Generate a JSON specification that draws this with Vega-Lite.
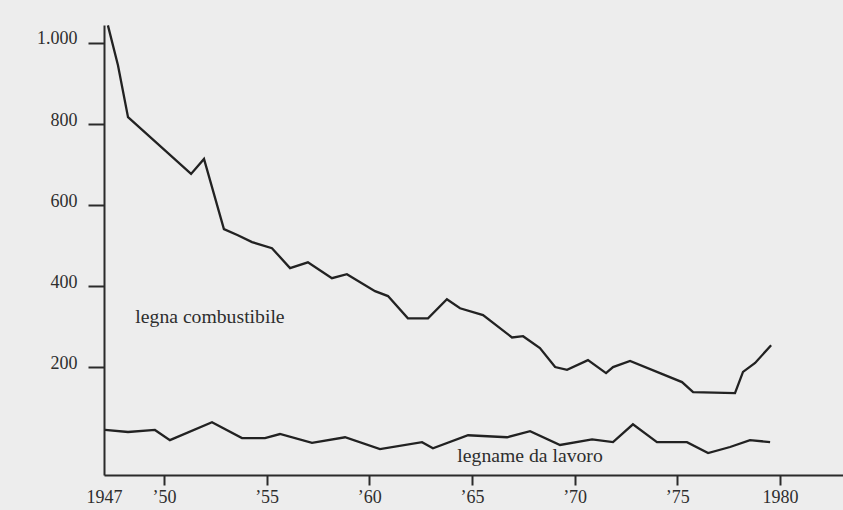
{
  "$schema": "https://vega.github.io/schema/vega-lite/v6.json",
  "width": 739,
  "height": 450,
  "autosize": {"type": "none"},
  "padding": {"left": 104, "top": 25, "right": 0, "bottom": 35},
  "background": "#ededed",
  "config": {"view": {"stroke": null}, "font": "Liberation Serif"},
  "data": {
    "values": [
      {"series": "legna combustibile", "year": 1947.27, "value": 1043},
      {"series": "legna combustibile", "year": 1947.76, "value": 945},
      {"series": "legna combustibile", "year": 1948.25, "value": 817},
      {"series": "legna combustibile", "year": 1951.32, "value": 677},
      {"series": "legna combustibile", "year": 1951.95, "value": 714},
      {"series": "legna combustibile", "year": 1952.92, "value": 541},
      {"series": "legna combustibile", "year": 1953.6, "value": 526},
      {"series": "legna combustibile", "year": 1954.29, "value": 509},
      {"series": "legna combustibile", "year": 1955.26, "value": 494},
      {"series": "legna combustibile", "year": 1956.14, "value": 445},
      {"series": "legna combustibile", "year": 1957.01, "value": 459},
      {"series": "legna combustibile", "year": 1958.18, "value": 420},
      {"series": "legna combustibile", "year": 1958.91, "value": 430},
      {"series": "legna combustibile", "year": 1960.28, "value": 388},
      {"series": "legna combustibile", "year": 1960.91, "value": 376},
      {"series": "legna combustibile", "year": 1961.88, "value": 321},
      {"series": "legna combustibile", "year": 1962.86, "value": 321},
      {"series": "legna combustibile", "year": 1963.78, "value": 368},
      {"series": "legna combustibile", "year": 1964.42, "value": 346},
      {"series": "legna combustibile", "year": 1965.54, "value": 329},
      {"series": "legna combustibile", "year": 1966.95, "value": 274},
      {"series": "legna combustibile", "year": 1967.49, "value": 277},
      {"series": "legna combustibile", "year": 1968.31, "value": 248},
      {"series": "legna combustibile", "year": 1969.05, "value": 201},
      {"series": "legna combustibile", "year": 1969.63, "value": 194},
      {"series": "legna combustibile", "year": 1970.65, "value": 218},
      {"series": "legna combustibile", "year": 1971.53, "value": 186},
      {"series": "legna combustibile", "year": 1971.87, "value": 201},
      {"series": "legna combustibile", "year": 1972.7, "value": 216},
      {"series": "legna combustibile", "year": 1975.23, "value": 164},
      {"series": "legna combustibile", "year": 1975.77, "value": 139},
      {"series": "legna combustibile", "year": 1977.81, "value": 137},
      {"series": "legna combustibile", "year": 1978.2, "value": 189},
      {"series": "legna combustibile", "year": 1978.79, "value": 211},
      {"series": "legna combustibile", "year": 1979.57, "value": 255},
      {"series": "legname da lavoro", "year": 1947.13, "value": 46},
      {"series": "legname da lavoro", "year": 1948.25, "value": 41},
      {"series": "legname da lavoro", "year": 1949.56, "value": 46},
      {"series": "legname da lavoro", "year": 1950.29, "value": 21},
      {"series": "legname da lavoro", "year": 1952.34, "value": 65},
      {"series": "legname da lavoro", "year": 1953.8, "value": 26},
      {"series": "legname da lavoro", "year": 1954.92, "value": 26},
      {"series": "legname da lavoro", "year": 1955.65, "value": 36},
      {"series": "legname da lavoro", "year": 1957.21, "value": 14},
      {"series": "legname da lavoro", "year": 1958.82, "value": 28},
      {"series": "legname da lavoro", "year": 1960.52, "value": -1},
      {"series": "legname da lavoro", "year": 1962.57, "value": 16},
      {"series": "legname da lavoro", "year": 1963.1, "value": 1},
      {"series": "legname da lavoro", "year": 1964.81, "value": 33},
      {"series": "legname da lavoro", "year": 1966.71, "value": 28},
      {"series": "legname da lavoro", "year": 1967.83, "value": 43},
      {"series": "legname da lavoro", "year": 1969.29, "value": 9},
      {"series": "legname da lavoro", "year": 1970.85, "value": 23},
      {"series": "legname da lavoro", "year": 1971.87, "value": 16},
      {"series": "legname da lavoro", "year": 1972.84, "value": 60},
      {"series": "legname da lavoro", "year": 1974.01, "value": 16},
      {"series": "legname da lavoro", "year": 1975.47, "value": 16},
      {"series": "legname da lavoro", "year": 1976.5, "value": -11},
      {"series": "legname da lavoro", "year": 1977.57, "value": 4},
      {"series": "legname da lavoro", "year": 1978.54, "value": 21},
      {"series": "legname da lavoro", "year": 1979.52, "value": 16}
    ]
  },
  "layer": [
    {
      "mark": {"type": "line", "color": "#222222", "strokeWidth": 2.3, "strokeJoin": "miter", "clip": true},
      "encoding": {
        "x": {
          "field": "year",
          "type": "quantitative",
          "scale": {"domain": [1947.08, 1983.07], "nice": false, "zero": false},
          "axis": {
            "values": [1947.08, 1950, 1955, 1960, 1965, 1970, 1975, 1980],
            "labelExpr": "datum.value < 1948 ? '1947' : (datum.value == 1980 ? '1980' : '’' + substring(toString(datum.value), 2))",
            "title": null,
            "grid": false,
            "domainColor": "#2b2b2b",
            "domainWidth": 2,
            "tickColor": {"condition": {"test": "datum.value < 1948", "value": "transparent"}, "value": "#2b2b2b"},
            "tickWidth": 2,
            "tickSize": 10,
            "labelFont": "Liberation Serif",
            "labelFontSize": 18,
            "labelColor": "#2e2e2e",
            "labelPadding": 3,
            "labelFlush": false,
            "labelOverlap": false
          }
        },
        "y": {
          "field": "value",
          "type": "quantitative",
          "scale": {"domain": [-65, 1044], "nice": false, "zero": false},
          "axis": {
            "values": [200, 400, 600, 800, 1000],
            "labelExpr": "datum.value == 1000 ? '1.000' : datum.label",
            "title": null,
            "grid": false,
            "domainColor": "#2b2b2b",
            "domainWidth": 2,
            "tickColor": "#2b2b2b",
            "tickWidth": 2,
            "tickSize": 16,
            "labelFont": "Liberation Serif",
            "labelFontSize": 18,
            "labelColor": "#2e2e2e",
            "labelPadding": 11,
            "labelOffset": -4,
            "labelFlush": false,
            "labelOverlap": false
          }
        },
        "detail": {"field": "series", "type": "nominal"}
      }
    },
    {
      "data": {"values": [{"label": "legna combustibile"}]},
      "mark": {"type": "text", "font": "Liberation Serif", "fontSize": 19.7, "color": "#2e2e2e", "align": "center", "baseline": "alphabetic"},
      "encoding": {
        "x": {"datum": 1952.24, "type": "quantitative"},
        "y": {"datum": 309, "type": "quantitative"},
        "text": {"field": "label"}
      }
    },
    {
      "data": {"values": [{"label": "legname da lavoro"}]},
      "mark": {"type": "text", "font": "Liberation Serif", "fontSize": 19.7, "color": "#2e2e2e", "align": "center", "baseline": "alphabetic"},
      "encoding": {
        "x": {"datum": 1967.83, "type": "quantitative"},
        "y": {"datum": -33, "type": "quantitative"},
        "text": {"field": "label"}
      }
    }
  ]
}
